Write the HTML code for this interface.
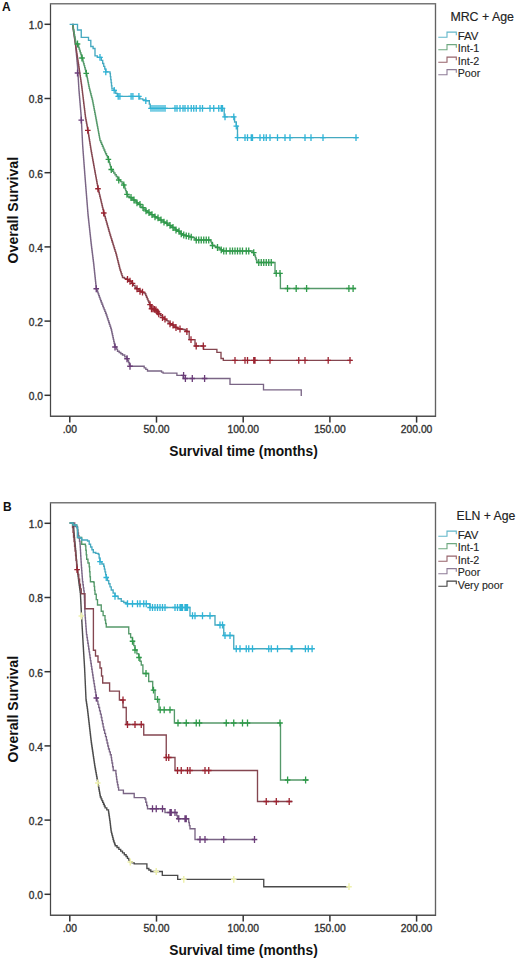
<!DOCTYPE html>
<html><head><meta charset="utf-8"><title>Kaplan-Meier survival curves</title>
<style>
html,body{margin:0;padding:0;background:#fff;}
body{width:520px;height:960px;overflow:hidden;}
svg{display:block;font-family:"Liberation Sans", sans-serif;}
</style></head>
<body>
<svg width="520" height="960" viewBox="0 0 520 960">
<rect width="520" height="960" fill="#fff"/>
<path d="M50.5,3.0V417" stroke="#474747" stroke-width="1.25"/>
<path d="M435.5,3.0V417" stroke="#626262" stroke-width="1.35"/>
<path d="M50,3.8H436" stroke="#777" stroke-width="1.6"/>
<path d="M50,416.3H436" stroke="#505050" stroke-width="1.5"/>
<path d="M44.5,24.30H51" stroke="#333" stroke-width="1.5"/>
<text x="42.9" y="29.10" font-size="10.2" text-anchor="end" fill="#333" stroke="#333" stroke-width="0.35">1.0</text>
<path d="M44.5,98.50H51" stroke="#333" stroke-width="1.5"/>
<text x="42.9" y="103.30" font-size="10.2" text-anchor="end" fill="#333" stroke="#333" stroke-width="0.35">0.8</text>
<path d="M44.5,172.70H51" stroke="#333" stroke-width="1.5"/>
<text x="42.9" y="177.50" font-size="10.2" text-anchor="end" fill="#333" stroke="#333" stroke-width="0.35">0.6</text>
<path d="M44.5,246.90H51" stroke="#333" stroke-width="1.5"/>
<text x="42.9" y="251.70" font-size="10.2" text-anchor="end" fill="#333" stroke="#333" stroke-width="0.35">0.4</text>
<path d="M44.5,321.10H51" stroke="#333" stroke-width="1.5"/>
<text x="42.9" y="325.90" font-size="10.2" text-anchor="end" fill="#333" stroke="#333" stroke-width="0.35">0.2</text>
<path d="M44.5,395.30H51" stroke="#333" stroke-width="1.5"/>
<text x="42.9" y="400.10" font-size="10.2" text-anchor="end" fill="#333" stroke="#333" stroke-width="0.35">0.0</text>
<path d="M69.80,416.20V422.60" stroke="#333" stroke-width="1.5"/>
<text x="69.80" y="432.60" font-size="10.3" text-anchor="middle" fill="#333" stroke="#333" stroke-width="0.35">.00</text>
<path d="M156.50,416.20V422.60" stroke="#333" stroke-width="1.5"/>
<text x="156.50" y="432.60" font-size="10.3" text-anchor="middle" fill="#333" stroke="#333" stroke-width="0.35">50.00</text>
<path d="M243.20,416.20V422.60" stroke="#333" stroke-width="1.5"/>
<text x="243.20" y="432.60" font-size="10.3" text-anchor="middle" fill="#333" stroke="#333" stroke-width="0.35">100.00</text>
<path d="M329.90,416.20V422.60" stroke="#333" stroke-width="1.5"/>
<text x="329.90" y="432.60" font-size="10.3" text-anchor="middle" fill="#333" stroke="#333" stroke-width="0.35">150.00</text>
<path d="M416.60,416.20V422.60" stroke="#333" stroke-width="1.5"/>
<text x="416.60" y="432.60" font-size="10.3" text-anchor="middle" fill="#333" stroke="#333" stroke-width="0.35">200.00</text>
<text x="169.2" y="456.30" font-size="14" font-weight="bold" fill="#111" textLength="148.6" lengthAdjust="spacingAndGlyphs">Survival time (months)</text>
<text transform="translate(17.9,210.15) rotate(-90)" x="0" y="0" font-size="14" font-weight="bold" fill="#111" text-anchor="middle" textLength="106.5" lengthAdjust="spacingAndGlyphs">Overall Survival</text>
<text x="2.1" y="10.9" font-size="12" font-weight="bold" fill="#111">A</text>
<text x="450.4" y="21.10" font-size="12.2" fill="#222" stroke="#222" stroke-width="0.15" textLength="63.6" lengthAdjust="spacingAndGlyphs">MRC + Age</text>
<path d="M438.3,37.20H447V32.10H456.3V35.30" fill="none" stroke="#45a9c0" stroke-width="1.1" opacity="0.85"/>
<text x="457.7" y="39.50" font-size="10.6" fill="#262626" stroke="#262626" stroke-width="0.12" textLength="20.8" lengthAdjust="spacingAndGlyphs">FAV</text>
<path d="M438.3,49.70H447V44.60H456.3V47.80" fill="none" stroke="#55996a" stroke-width="1.1" opacity="0.85"/>
<text x="457.7" y="52.00" font-size="10.6" fill="#262626" stroke="#262626" stroke-width="0.12" textLength="21.5" lengthAdjust="spacingAndGlyphs">Int-1</text>
<path d="M438.3,62.20H447V57.10H456.3V60.30" fill="none" stroke="#844650" stroke-width="1.1" opacity="0.85"/>
<text x="457.7" y="64.50" font-size="10.6" fill="#262626" stroke="#262626" stroke-width="0.12" textLength="21.5" lengthAdjust="spacingAndGlyphs">Int-2</text>
<path d="M438.3,74.70H447V69.60H456.3V72.80" fill="none" stroke="#7a6585" stroke-width="1.1" opacity="0.85"/>
<text x="457.7" y="77.00" font-size="10.6" fill="#262626" stroke="#262626" stroke-width="0.12" textLength="22.5" lengthAdjust="spacingAndGlyphs">Poor</text>
<path d="M50.5,502.0V916" stroke="#474747" stroke-width="1.25"/>
<path d="M435.5,502.0V916" stroke="#626262" stroke-width="1.35"/>
<path d="M50,502.8H436" stroke="#777" stroke-width="1.6"/>
<path d="M50,915.3H436" stroke="#505050" stroke-width="1.5"/>
<path d="M44.5,523.30H51" stroke="#333" stroke-width="1.5"/>
<text x="42.9" y="528.10" font-size="10.2" text-anchor="end" fill="#333" stroke="#333" stroke-width="0.35">1.0</text>
<path d="M44.5,597.50H51" stroke="#333" stroke-width="1.5"/>
<text x="42.9" y="602.30" font-size="10.2" text-anchor="end" fill="#333" stroke="#333" stroke-width="0.35">0.8</text>
<path d="M44.5,671.70H51" stroke="#333" stroke-width="1.5"/>
<text x="42.9" y="676.50" font-size="10.2" text-anchor="end" fill="#333" stroke="#333" stroke-width="0.35">0.6</text>
<path d="M44.5,745.90H51" stroke="#333" stroke-width="1.5"/>
<text x="42.9" y="750.70" font-size="10.2" text-anchor="end" fill="#333" stroke="#333" stroke-width="0.35">0.4</text>
<path d="M44.5,820.10H51" stroke="#333" stroke-width="1.5"/>
<text x="42.9" y="824.90" font-size="10.2" text-anchor="end" fill="#333" stroke="#333" stroke-width="0.35">0.2</text>
<path d="M44.5,894.30H51" stroke="#333" stroke-width="1.5"/>
<text x="42.9" y="899.10" font-size="10.2" text-anchor="end" fill="#333" stroke="#333" stroke-width="0.35">0.0</text>
<path d="M69.80,915.20V921.60" stroke="#333" stroke-width="1.5"/>
<text x="69.80" y="931.60" font-size="10.3" text-anchor="middle" fill="#333" stroke="#333" stroke-width="0.35">.00</text>
<path d="M156.50,915.20V921.60" stroke="#333" stroke-width="1.5"/>
<text x="156.50" y="931.60" font-size="10.3" text-anchor="middle" fill="#333" stroke="#333" stroke-width="0.35">50.00</text>
<path d="M243.20,915.20V921.60" stroke="#333" stroke-width="1.5"/>
<text x="243.20" y="931.60" font-size="10.3" text-anchor="middle" fill="#333" stroke="#333" stroke-width="0.35">100.00</text>
<path d="M329.90,915.20V921.60" stroke="#333" stroke-width="1.5"/>
<text x="329.90" y="931.60" font-size="10.3" text-anchor="middle" fill="#333" stroke="#333" stroke-width="0.35">150.00</text>
<path d="M416.60,915.20V921.60" stroke="#333" stroke-width="1.5"/>
<text x="416.60" y="931.60" font-size="10.3" text-anchor="middle" fill="#333" stroke="#333" stroke-width="0.35">200.00</text>
<text x="169.2" y="955.30" font-size="14" font-weight="bold" fill="#111" textLength="148.6" lengthAdjust="spacingAndGlyphs">Survival time (months)</text>
<text transform="translate(17.9,709.15) rotate(-90)" x="0" y="0" font-size="14" font-weight="bold" fill="#111" text-anchor="middle" textLength="106.5" lengthAdjust="spacingAndGlyphs">Overall Survival</text>
<text x="3.1" y="511.3" font-size="12" font-weight="bold" fill="#111">B</text>
<text x="456.5" y="520.40" font-size="12.2" fill="#222" stroke="#222" stroke-width="0.15" textLength="58.9" lengthAdjust="spacingAndGlyphs">ELN + Age</text>
<path d="M438.3,536.20H447V531.10H456.3V534.30" fill="none" stroke="#45a9c0" stroke-width="1.1" opacity="0.85"/>
<text x="457.7" y="538.50" font-size="10.6" fill="#262626" stroke="#262626" stroke-width="0.12" textLength="20.8" lengthAdjust="spacingAndGlyphs">FAV</text>
<path d="M438.3,548.70H447V543.60H456.3V546.80" fill="none" stroke="#55996a" stroke-width="1.1" opacity="0.85"/>
<text x="457.7" y="551.00" font-size="10.6" fill="#262626" stroke="#262626" stroke-width="0.12" textLength="21.5" lengthAdjust="spacingAndGlyphs">Int-1</text>
<path d="M438.3,561.20H447V556.10H456.3V559.30" fill="none" stroke="#844650" stroke-width="1.1" opacity="0.85"/>
<text x="457.7" y="563.50" font-size="10.6" fill="#262626" stroke="#262626" stroke-width="0.12" textLength="21.5" lengthAdjust="spacingAndGlyphs">Int-2</text>
<path d="M438.3,573.70H447V568.60H456.3V571.80" fill="none" stroke="#7a6585" stroke-width="1.1" opacity="0.85"/>
<text x="457.7" y="576.00" font-size="10.6" fill="#262626" stroke="#262626" stroke-width="0.12" textLength="22.5" lengthAdjust="spacingAndGlyphs">Poor</text>
<path d="M438.3,586.20H447V581.10H456.3V584.30" fill="none" stroke="#1e1e1e" stroke-width="1.1" opacity="0.85"/>
<text x="457.7" y="588.50" font-size="10.6" fill="#262626" stroke="#262626" stroke-width="0.12" textLength="45.5" lengthAdjust="spacingAndGlyphs">Very poor</text>
<path d="M72.50,24.30 L72.75,24.30 L72.75,26.03 L73.00,26.03 L73.00,27.75 L73.25,27.75 L73.25,29.48 L73.50,29.48 L73.50,31.20 L73.75,31.20 L73.75,32.92 L74.00,32.92 L74.00,34.65 L74.25,34.65 L74.25,36.38 L74.50,36.38 L74.50,38.10 L74.75,38.10 L74.75,39.83 L75.00,39.83 L75.00,41.55 L75.25,41.55 L75.25,43.27 L75.50,43.27 L75.50,45.00 L75.67,45.00 L75.67,46.81 L75.83,46.81 L75.83,48.62 L76.00,48.62 L76.00,50.42 L76.17,50.42 L76.17,52.23 L76.33,52.23 L76.33,54.04 L76.50,54.04 L76.50,55.85 L76.67,55.85 L76.67,57.66 L76.83,57.66 L76.83,59.47 L77.00,59.47 L77.00,61.28 L77.17,61.28 L77.17,63.08 L77.33,63.08 L77.33,64.89 L77.50,64.89 L77.50,66.70 L77.61,66.70 L77.61,68.49 L77.72,68.49 L77.72,70.28 L77.82,70.28 L77.82,72.08 L77.93,72.08 L77.93,73.87 L78.04,73.87 L78.04,75.66 L78.15,75.66 L78.15,77.45 L78.25,77.45 L78.25,79.25 L78.36,79.25 L78.36,81.04 L78.47,81.04 L78.47,82.83 L78.58,82.83 L78.58,84.62 L78.68,84.62 L78.68,86.42 L78.79,86.42 L78.79,88.21 L78.90,88.21 L78.90,90.00 L79.05,90.00 L79.05,91.75 L79.19,91.75 L79.19,93.50 L79.34,93.50 L79.34,95.25 L79.49,95.25 L79.49,97.00 L79.63,97.00 L79.63,98.75 L79.78,98.75 L79.78,100.50 L79.93,100.50 L79.93,102.25 L80.08,102.25 L80.08,104.00 L80.22,104.00 L80.22,105.75 L80.37,105.75 L80.37,107.50 L80.52,107.50 L80.52,109.25 L80.66,109.25 L80.66,111.00 L80.81,111.00 L80.81,112.75 L80.96,112.75 L80.96,114.50 L81.10,114.50 L81.10,116.25 L81.25,116.25 L81.25,118.00 L81.34,118.00 L81.34,119.76 L81.42,119.76 L81.42,121.53 L81.51,121.53 L81.51,123.29 L81.60,123.29 L81.60,125.05 L81.69,125.05 L81.69,126.81 L81.78,126.81 L81.78,128.57 L81.86,128.57 L81.86,130.34 L81.95,130.34 L81.95,132.10 L82.04,132.10 L82.04,133.86 L82.12,133.86 L82.12,135.62 L82.21,135.62 L82.21,137.39 L82.30,137.39 L82.30,139.15 L82.39,139.15 L82.39,140.91 L82.48,140.91 L82.48,142.67 L82.56,142.67 L82.56,144.44 L82.65,144.44 L82.65,146.20 L82.79,146.20 L82.79,148.04 L82.93,148.04 L82.93,149.88 L83.06,149.88 L83.06,151.72 L83.20,151.72 L83.20,153.56 L83.34,153.56 L83.34,155.41 L83.48,155.41 L83.48,157.25 L83.62,157.25 L83.62,159.09 L83.76,159.09 L83.76,160.93 L83.89,160.93 L83.89,162.77 L84.03,162.77 L84.03,164.61 L84.17,164.61 L84.17,166.45 L84.31,166.45 L84.31,168.29 L84.45,168.29 L84.45,170.14 L84.59,170.14 L84.59,171.98 L84.72,171.98 L84.72,173.82 L84.86,173.82 L84.86,175.66 L85.00,175.66 L85.00,177.50 L85.14,177.50 L85.14,179.29 L85.29,179.29 L85.29,181.07 L85.43,181.07 L85.43,182.86 L85.57,182.86 L85.57,184.64 L85.71,184.64 L85.71,186.43 L85.86,186.43 L85.86,188.21 L86.00,188.21 L86.00,190.00 L86.14,190.00 L86.14,191.79 L86.29,191.79 L86.29,193.57 L86.43,193.57 L86.43,195.36 L86.57,195.36 L86.57,197.14 L86.71,197.14 L86.71,198.93 L86.86,198.93 L86.86,200.71 L87.00,200.71 L87.00,202.50 L87.14,202.50 L87.14,204.29 L87.29,204.29 L87.29,206.07 L87.43,206.07 L87.43,207.86 L87.57,207.86 L87.57,209.64 L87.71,209.64 L87.71,211.43 L87.86,211.43 L87.86,213.21 L88.00,213.21 L88.00,215.00 L88.19,215.00 L88.19,216.76 L88.38,216.76 L88.38,218.53 L88.57,218.53 L88.57,220.29 L88.76,220.29 L88.76,222.06 L88.96,222.06 L88.96,223.82 L89.15,223.82 L89.15,225.59 L89.34,225.59 L89.34,227.35 L89.53,227.35 L89.53,229.12 L89.72,229.12 L89.72,230.88 L89.91,230.88 L89.91,232.65 L90.10,232.65 L90.10,234.41 L90.29,234.41 L90.29,236.18 L90.49,236.18 L90.49,237.94 L90.68,237.94 L90.68,239.71 L90.87,239.71 L90.87,241.47 L91.06,241.47 L91.06,243.24 L91.25,243.24 L91.25,245.00 L91.48,245.00 L91.48,246.82 L91.70,246.82 L91.70,248.64 L91.93,248.64 L91.93,250.45 L92.16,250.45 L92.16,252.27 L92.39,252.27 L92.39,254.09 L92.61,254.09 L92.61,255.91 L92.84,255.91 L92.84,257.73 L93.07,257.73 L93.07,259.55 L93.30,259.55 L93.30,261.36 L93.52,261.36 L93.52,263.18 L93.75,263.18 L93.75,265.00 L93.94,265.00 L93.94,266.83 L94.13,266.83 L94.13,268.65 L94.33,268.65 L94.33,270.48 L94.52,270.48 L94.52,272.31 L94.71,272.31 L94.71,274.13 L94.90,274.13 L94.90,275.96 L95.10,275.96 L95.10,277.79 L95.29,277.79 L95.29,279.62 L95.48,279.62 L95.48,281.44 L95.67,281.44 L95.67,283.27 L95.87,283.27 L95.87,285.10 L96.06,285.10 L96.06,286.92 L96.25,286.92 L96.25,288.75 L96.88,288.75 L96.88,290.47 L97.50,290.47 L97.50,292.19 L98.12,292.19 L98.12,293.91 L98.75,293.91 L98.75,295.62 L99.38,295.62 L99.38,297.34 L100.00,297.34 L100.00,299.06 L100.62,299.06 L100.62,300.78 L101.25,300.78 L101.25,302.50 L101.96,302.50 L101.96,304.29 L102.68,304.29 L102.68,306.07 L103.39,306.07 L103.39,307.86 L104.11,307.86 L104.11,309.64 L104.82,309.64 L104.82,311.43 L105.54,311.43 L105.54,313.21 L106.25,313.21 L106.25,315.00 L106.88,315.00 L106.88,316.88 L107.50,316.88 L107.50,318.75 L108.12,318.75 L108.12,320.62 L108.75,320.62 L108.75,322.50 L109.38,322.50 L109.38,324.38 L110.00,324.38 L110.00,326.25 L110.62,326.25 L110.62,328.12 L111.25,328.12 L111.25,330.00 L111.67,330.00 L111.67,331.89 L112.08,331.89 L112.08,333.78 L112.50,333.78 L112.50,335.67 L112.92,335.67 L112.92,337.56 L113.33,337.56 L113.33,339.44 L113.75,339.44 L113.75,341.33 L114.17,341.33 L114.17,343.22 L114.58,343.22 L114.58,345.11 L115.00,345.11 L115.00,347.00 L116.25,347.00 L116.25,349.12 L117.50,349.12 L117.50,351.25 L119.17,351.25 L119.17,352.50 L120.83,352.50 L120.83,353.75 L122.50,353.75 L122.50,355.00 L124.75,355.00 L124.75,356.88 L127.00,356.88 L127.00,358.75 L127.75,358.75 L127.75,360.62 L128.50,360.62 L128.50,362.50 L129.25,362.50 L129.25,364.38 L130.00,364.38 L130.00,366.25 L142.50,366.25 L144.17,366.25 L144.17,367.83 L145.83,367.83 L145.83,369.42 L147.50,369.42 L147.50,371.00 L160.00,371.00 L161.55,371.00 L161.55,372.05 L163.10,372.05 L163.10,373.10 L176.90,373.10 L176.90,375.40 L183.10,375.40 L183.10,378.50 L230.00,378.50 L230.00,384.30 L263.50,384.30 L263.50,389.80 L301.25,389.80 L301.25,396.00" fill="none" stroke="#7a6585" stroke-width="1.35" stroke-linejoin="miter"/>
<path d="M77.50,69.60V76.40M74.70,73.00H80.30M81.25,116.80V123.60M78.45,120.20H84.05M96.25,285.35V292.15M93.45,288.75H99.05M115.00,343.60V350.40M112.20,347.00H117.80M127.00,355.35V362.15M124.20,358.75H129.80M130.00,362.85V369.65M127.20,366.25H132.80M183.60,372.00V378.80M180.80,375.40H186.40M185.40,375.10V381.90M182.60,378.50H188.20M192.30,375.10V381.90M189.50,378.50H195.10M204.60,375.10V381.90M201.80,378.50H207.40" fill="none" stroke="#6a3c78" stroke-width="1.3"/>

<path d="M72.50,24.30 L72.76,24.30 L72.76,26.11 L73.03,26.11 L73.03,27.93 L73.29,27.93 L73.29,29.74 L73.55,29.74 L73.55,31.55 L73.81,31.55 L73.81,33.36 L74.08,33.36 L74.08,35.17 L74.34,35.17 L74.34,36.99 L74.60,36.99 L74.60,38.80 L74.86,38.80 L74.86,40.61 L75.12,40.61 L75.12,42.42 L75.39,42.42 L75.39,44.24 L75.65,44.24 L75.65,46.05 L75.91,46.05 L75.91,47.86 L76.17,47.86 L76.17,49.67 L76.44,49.67 L76.44,51.49 L76.70,51.49 L76.70,53.30 L76.99,53.30 L76.99,55.21 L77.29,55.21 L77.29,57.13 L77.58,57.13 L77.58,59.04 L77.87,59.04 L77.87,60.96 L78.16,60.96 L78.16,62.87 L78.46,62.87 L78.46,64.79 L78.75,64.79 L78.75,66.70 L79.02,66.70 L79.02,68.52 L79.29,68.52 L79.29,70.34 L79.55,70.34 L79.55,72.15 L79.82,72.15 L79.82,73.97 L80.09,73.97 L80.09,75.79 L80.36,75.79 L80.36,77.61 L80.63,77.61 L80.63,79.43 L80.90,79.43 L80.90,81.25 L81.16,81.25 L81.16,83.06 L81.43,83.06 L81.43,84.88 L81.70,84.88 L81.70,86.70 L81.92,86.70 L81.92,88.54 L82.15,88.54 L82.15,90.38 L82.37,90.38 L82.37,92.22 L82.59,92.22 L82.59,94.06 L82.82,94.06 L82.82,95.91 L83.04,95.91 L83.04,97.75 L83.26,97.75 L83.26,99.59 L83.49,99.59 L83.49,101.43 L83.71,101.43 L83.71,103.27 L83.94,103.27 L83.94,105.11 L84.16,105.11 L84.16,106.95 L84.38,106.95 L84.38,108.79 L84.61,108.79 L84.61,110.64 L84.83,110.64 L84.83,112.48 L85.05,112.48 L85.05,114.32 L85.28,114.32 L85.28,116.16 L85.50,116.16 L85.50,118.00 L85.83,118.00 L85.83,119.76 L86.16,119.76 L86.16,121.51 L86.49,121.51 L86.49,123.27 L86.81,123.27 L86.81,125.03 L87.14,125.03 L87.14,126.79 L87.47,126.79 L87.47,128.54 L87.80,128.54 L87.80,130.30 L88.10,130.30 L88.10,132.18 L88.40,132.18 L88.40,134.06 L88.70,134.06 L88.70,135.95 L89.00,135.95 L89.00,137.83 L89.30,137.83 L89.30,139.71 L89.60,139.71 L89.60,141.59 L89.90,141.59 L89.90,143.47 L90.20,143.47 L90.20,145.35 L90.50,145.35 L90.50,147.24 L90.80,147.24 L90.80,149.12 L91.10,149.12 L91.10,151.00 L91.42,151.00 L91.42,152.79 L91.75,152.79 L91.75,154.58 L92.07,154.58 L92.07,156.38 L92.40,156.38 L92.40,158.17 L92.72,158.17 L92.72,159.96 L93.05,159.96 L93.05,161.75 L93.38,161.75 L93.38,163.54 L93.70,163.54 L93.70,165.33 L94.03,165.33 L94.03,167.12 L94.35,167.12 L94.35,168.92 L94.67,168.92 L94.67,170.71 L95.00,170.71 L95.00,172.50 L95.33,172.50 L95.33,174.31 L95.67,174.31 L95.67,176.11 L96.00,176.11 L96.00,177.92 L96.33,177.92 L96.33,179.72 L96.67,179.72 L96.67,181.53 L97.00,181.53 L97.00,183.33 L97.33,183.33 L97.33,185.14 L97.67,185.14 L97.67,186.94 L98.00,186.94 L98.00,188.75 L98.44,188.75 L98.44,190.62 L98.88,190.62 L98.88,192.48 L99.33,192.48 L99.33,194.35 L99.77,194.35 L99.77,196.21 L100.21,196.21 L100.21,198.08 L100.65,198.08 L100.65,199.94 L101.10,199.94 L101.10,201.81 L101.54,201.81 L101.54,203.67 L101.98,203.67 L101.98,205.54 L102.42,205.54 L102.42,207.40 L102.87,207.40 L102.87,209.27 L103.31,209.27 L103.31,211.13 L103.75,211.13 L103.75,213.00 L104.27,213.00 L104.27,214.83 L104.79,214.83 L104.79,216.67 L105.31,216.67 L105.31,218.50 L105.83,218.50 L105.83,220.33 L106.35,220.33 L106.35,222.17 L106.88,222.17 L106.88,224.00 L107.40,224.00 L107.40,225.83 L107.92,225.83 L107.92,227.67 L108.44,227.67 L108.44,229.50 L108.96,229.50 L108.96,231.33 L109.48,231.33 L109.48,233.17 L110.00,233.17 L110.00,235.00 L110.57,235.00 L110.57,236.82 L111.14,236.82 L111.14,238.64 L111.70,238.64 L111.70,240.45 L112.27,240.45 L112.27,242.27 L112.84,242.27 L112.84,244.09 L113.41,244.09 L113.41,245.91 L113.98,245.91 L113.98,247.73 L114.55,247.73 L114.55,249.55 L115.11,249.55 L115.11,251.36 L115.68,251.36 L115.68,253.18 L116.25,253.18 L116.25,255.00 L116.72,255.00 L116.72,256.88 L117.19,256.88 L117.19,258.75 L117.66,258.75 L117.66,260.62 L118.12,260.62 L118.12,262.50 L118.59,262.50 L118.59,264.38 L119.06,264.38 L119.06,266.25 L119.53,266.25 L119.53,268.12 L120.00,268.12 L120.00,270.00 L120.62,270.00 L120.62,271.88 L121.25,271.88 L121.25,273.75 L121.88,273.75 L121.88,275.62 L122.50,275.62 L122.50,277.50 L124.38,277.50 L124.38,278.44 L126.25,278.44 L126.25,279.38 L128.12,279.38 L128.12,280.31 L130.00,280.31 L130.00,281.25 L131.67,281.25 L131.67,283.33 L133.33,283.33 L133.33,285.42 L135.00,285.42 L135.00,287.50 L136.67,287.50 L136.67,288.75 L138.33,288.75 L138.33,290.00 L140.00,290.00 L140.00,291.25 L141.67,291.25 L141.67,292.08 L143.33,292.08 L143.33,292.92 L145.00,292.92 L145.00,293.75 L145.75,293.75 L145.75,295.50 L146.50,295.50 L146.50,297.25 L147.25,297.25 L147.25,299.00 L148.00,299.00 L148.00,300.75 L148.75,300.75 L148.75,302.50 L149.58,302.50 L149.58,304.58 L150.42,304.58 L150.42,306.67 L151.25,306.67 L151.25,308.75 L153.12,308.75 L153.12,309.38 L155.00,309.38 L155.00,310.00 L156.88,310.00 L156.88,311.88 L158.75,311.88 L158.75,313.75 L160.62,313.75 L160.62,315.62 L162.50,315.62 L162.50,317.50 L164.38,317.50 L164.38,319.06 L166.25,319.06 L166.25,320.62 L168.12,320.62 L168.12,322.19 L170.00,322.19 L170.00,323.75 L171.88,323.75 L171.88,325.00 L173.75,325.00 L173.75,326.25 L175.62,326.25 L175.62,327.50 L177.50,327.50 L177.50,328.75 L179.50,328.75 L179.50,329.00 L181.50,329.00 L181.50,329.25 L183.50,329.25 L183.50,329.50 L185.20,329.50 L185.20,330.50 L186.90,330.50 L186.90,331.50 L189.20,331.50 L189.20,333.00 L189.20,339.60 L195.00,339.60 L195.00,346.00 L203.60,346.00 L203.60,349.40 L216.90,349.40 L216.90,352.30 L221.00,352.30 L221.00,358.50 L223.30,358.50 L223.30,360.30 L352.30,360.30" fill="none" stroke="#844650" stroke-width="1.35" stroke-linejoin="miter"/>
<path d="M87.80,126.90V133.70M85.00,130.30H90.60M98.00,185.35V192.15M95.20,188.75H100.80M103.75,209.60V216.40M100.95,213.00H106.55M127.50,275.98V282.77M124.70,279.38H130.30M130.00,277.85V284.65M127.20,281.25H132.80M132.50,279.93V286.73M129.70,283.33H135.30M137.00,285.35V292.15M134.20,288.75H139.80M140.00,287.85V294.65M137.20,291.25H142.80M142.50,288.68V295.48M139.70,292.08H145.30M150.00,301.18V307.98M147.20,304.58H152.80M151.50,305.35V312.15M148.70,308.75H154.30M153.00,305.35V312.15M150.20,308.75H155.80M154.50,305.98V312.77M151.70,309.38H157.30M156.00,306.60V313.40M153.20,310.00H158.80M157.50,308.48V315.27M154.70,311.88H160.30M158.75,310.35V317.15M155.95,313.75H161.55M162.50,314.10V320.90M159.70,317.50H165.30M165.00,315.66V322.46M162.20,319.06H167.80M170.00,320.35V327.15M167.20,323.75H172.80M173.00,321.60V328.40M170.20,325.00H175.80M176.00,324.10V330.90M173.20,327.50H178.80M180.00,325.60V332.40M177.20,329.00H182.80M186.90,328.10V334.90M184.10,331.50H189.70M191.00,336.20V343.00M188.20,339.60H193.80M196.20,342.60V349.40M193.40,346.00H199.00M203.30,342.60V349.40M200.50,346.00H206.10M235.00,356.90V363.70M232.20,360.30H237.80M245.00,356.90V363.70M242.20,360.30H247.80M247.50,356.90V363.70M244.70,360.30H250.30M253.75,356.90V363.70M250.95,360.30H256.55M255.00,356.90V363.70M252.20,360.30H257.80M270.00,356.90V363.70M267.20,360.30H272.80M298.75,356.90V363.70M295.95,360.30H301.55M305.00,356.90V363.70M302.20,360.30H307.80M328.20,356.90V363.70M325.40,360.30H331.00M350.00,356.90V363.70M347.20,360.30H352.80" fill="none" stroke="#9b2330" stroke-width="1.3"/>

<path d="M72.50,24.30 L72.80,24.30 L72.80,26.03 L73.10,26.03 L73.10,27.75 L73.40,27.75 L73.40,29.48 L73.70,29.48 L73.70,31.21 L74.00,31.21 L74.00,32.94 L74.30,32.94 L74.30,34.66 L74.60,34.66 L74.60,36.39 L74.90,36.39 L74.90,38.12 L75.20,38.12 L75.20,39.85 L75.50,39.85 L75.50,41.57 L75.80,41.57 L75.80,43.30 L77.50,43.30 L77.50,44.00 L78.06,44.00 L78.06,45.75 L78.62,45.75 L78.62,47.50 L79.19,47.50 L79.19,49.25 L79.75,49.25 L79.75,51.00 L80.31,51.00 L80.31,52.75 L80.88,52.75 L80.88,54.50 L81.44,54.50 L81.44,56.25 L82.00,56.25 L82.00,58.00 L82.53,58.00 L82.53,59.91 L83.06,59.91 L83.06,61.83 L83.59,61.83 L83.59,63.74 L84.12,63.74 L84.12,65.65 L84.66,65.65 L84.66,67.56 L85.19,67.56 L85.19,69.47 L85.72,69.47 L85.72,71.39 L86.25,71.39 L86.25,73.30 L86.62,73.30 L86.62,75.17 L86.99,75.17 L86.99,77.05 L87.36,77.05 L87.36,78.92 L87.72,78.92 L87.72,80.80 L88.09,80.80 L88.09,82.67 L88.46,82.67 L88.46,84.55 L88.83,84.55 L88.83,86.42 L89.20,86.42 L89.20,88.30 L89.67,88.30 L89.67,90.11 L90.14,90.11 L90.14,91.93 L90.61,91.93 L90.61,93.74 L91.09,93.74 L91.09,95.56 L91.56,95.56 L91.56,97.37 L92.03,97.37 L92.03,99.19 L92.50,99.19 L92.50,101.00 L92.87,101.00 L92.87,102.89 L93.23,102.89 L93.23,104.78 L93.60,104.78 L93.60,106.67 L93.97,106.67 L93.97,108.56 L94.33,108.56 L94.33,110.44 L94.70,110.44 L94.70,112.33 L95.07,112.33 L95.07,114.22 L95.43,114.22 L95.43,116.11 L95.80,116.11 L95.80,118.00 L96.12,118.00 L96.12,119.74 L96.45,119.74 L96.45,121.48 L96.77,121.48 L96.77,123.22 L97.09,123.22 L97.09,124.95 L97.42,124.95 L97.42,126.69 L97.74,126.69 L97.74,128.43 L98.06,128.43 L98.06,130.17 L98.38,130.17 L98.38,131.91 L98.71,131.91 L98.71,133.65 L99.03,133.65 L99.03,135.38 L99.35,135.38 L99.35,137.12 L99.68,137.12 L99.68,138.86 L100.00,138.86 L100.00,140.60 L100.80,140.60 L100.80,142.47 L101.60,142.47 L101.60,144.34 L102.40,144.34 L102.40,146.21 L103.20,146.21 L103.20,148.09 L104.00,148.09 L104.00,149.96 L104.80,149.96 L104.80,151.83 L105.60,151.83 L105.60,153.70 L106.53,153.70 L106.53,155.60 L107.47,155.60 L107.47,157.50 L108.40,157.50 L108.40,159.40 L108.88,159.40 L108.88,161.08 L109.35,161.08 L109.35,162.77 L109.83,162.77 L109.83,164.45 L110.30,164.45 L110.30,166.13 L110.78,166.13 L110.78,167.82 L111.25,167.82 L111.25,169.50 L112.50,169.50 L112.50,171.25 L113.75,171.25 L113.75,173.00 L115.00,173.00 L115.00,174.75 L116.25,174.75 L116.25,176.50 L117.50,176.50 L117.50,178.25 L118.75,178.25 L118.75,180.00 L120.42,180.00 L120.42,181.67 L122.08,181.67 L122.08,183.33 L123.75,183.33 L123.75,185.00 L124.38,185.00 L124.38,186.88 L125.00,186.88 L125.00,188.75 L125.62,188.75 L125.62,190.62 L126.25,190.62 L126.25,192.50 L126.88,192.50 L126.88,194.38 L127.50,194.38 L127.50,196.25 L129.38,196.25 L129.38,197.50 L131.25,197.50 L131.25,198.75 L133.12,198.75 L133.12,200.00 L135.00,200.00 L135.00,201.25 L136.79,201.25 L136.79,202.86 L138.57,202.86 L138.57,204.46 L140.36,204.46 L140.36,206.07 L142.14,206.07 L142.14,207.68 L143.93,207.68 L143.93,209.29 L145.71,209.29 L145.71,210.89 L147.50,210.89 L147.50,212.50 L149.29,212.50 L149.29,213.57 L151.07,213.57 L151.07,214.64 L152.86,214.64 L152.86,215.71 L154.64,215.71 L154.64,216.79 L156.43,216.79 L156.43,217.86 L158.21,217.86 L158.21,218.93 L160.00,218.93 L160.00,220.00 L161.79,220.00 L161.79,221.07 L163.57,221.07 L163.57,222.14 L165.36,222.14 L165.36,223.21 L167.14,223.21 L167.14,224.29 L168.93,224.29 L168.93,225.36 L170.71,225.36 L170.71,226.43 L172.50,226.43 L172.50,227.50 L174.17,227.50 L174.17,228.75 L175.83,228.75 L175.83,230.00 L177.50,230.00 L177.50,231.25 L179.17,231.25 L179.17,232.50 L180.83,232.50 L180.83,233.75 L182.50,233.75 L182.50,235.00 L184.17,235.00 L184.17,235.42 L185.83,235.42 L185.83,235.83 L187.50,235.83 L187.50,236.25 L189.17,236.25 L189.17,236.67 L190.83,236.67 L190.83,237.08 L192.50,237.08 L192.50,237.50 L194.38,237.50 L194.38,238.75 L196.25,238.75 L196.25,240.00 L210.00,240.00 L210.83,240.00 L210.83,241.83 L211.67,241.83 L211.67,243.67 L212.50,243.67 L212.50,245.50 L214.17,245.50 L214.17,246.17 L215.83,246.17 L215.83,246.83 L217.50,246.83 L217.50,247.50 L219.17,247.50 L219.17,248.67 L220.83,248.67 L220.83,249.83 L222.50,249.83 L222.50,251.00 L252.00,251.00 L253.00,251.00 L253.00,252.67 L254.00,252.67 L254.00,254.33 L255.00,254.33 L255.00,256.00 L255.50,256.00 L255.50,257.62 L256.00,257.62 L256.00,259.25 L256.50,259.25 L256.50,260.88 L257.00,260.88 L257.00,262.50 L275.00,262.50 L275.00,273.40 L280.40,273.40 L280.40,288.50 L356.20,288.50" fill="none" stroke="#55996a" stroke-width="1.35" stroke-linejoin="miter"/>
<path d="M77.50,40.60V47.40M74.70,44.00H80.30M82.00,54.60V61.40M79.20,58.00H84.80M86.25,69.90V76.70M83.45,73.30H89.05M108.40,156.00V162.80M105.60,159.40H111.20M111.25,166.10V172.90M108.45,169.50H114.05M118.75,176.60V183.40M115.95,180.00H121.55M123.75,181.60V188.40M120.95,185.00H126.55M127.00,190.97V197.78M124.20,194.38H129.80M131.00,194.10V200.90M128.20,197.50H133.80M134.00,196.60V203.40M131.20,200.00H136.80M137.00,199.46V206.26M134.20,202.86H139.80M140.00,201.06V207.86M137.20,204.46H142.80M143.00,204.28V211.08M140.20,207.68H145.80M146.00,207.49V214.29M143.20,210.89H148.80M149.00,209.10V215.90M146.20,212.50H151.80M152.00,211.24V218.04M149.20,214.64H154.80M155.00,213.39V220.19M152.20,216.79H157.80M158.00,214.46V221.26M155.20,217.86H160.80M161.00,216.60V223.40M158.20,220.00H163.80M164.00,218.74V225.54M161.20,222.14H166.80M167.00,219.81V226.61M164.20,223.21H169.80M170.00,221.96V228.76M167.20,225.36H172.80M173.00,224.10V230.90M170.20,227.50H175.80M176.00,226.60V233.40M173.20,230.00H178.80M179.00,227.85V234.65M176.20,231.25H181.80M181.25,230.35V237.15M178.45,233.75H184.05M183.75,231.60V238.40M180.95,235.00H186.55M186.25,232.43V239.23M183.45,235.83H189.05M188.75,232.85V239.65M185.95,236.25H191.55M191.25,233.68V240.48M188.45,237.08H194.05M196.25,236.60V243.40M193.45,240.00H199.05M198.75,236.60V243.40M195.95,240.00H201.55M201.25,236.60V243.40M198.45,240.00H204.05M203.75,236.60V243.40M200.95,240.00H206.55M206.25,236.60V243.40M203.45,240.00H209.05M208.75,236.60V243.40M205.95,240.00H211.55M212.50,242.10V248.90M209.70,245.50H215.30M217.50,244.10V250.90M214.70,247.50H220.30M221.25,246.43V253.23M218.45,249.83H224.05M223.75,247.60V254.40M220.95,251.00H226.55M226.25,247.60V254.40M223.45,251.00H229.05M230.00,247.60V254.40M227.20,251.00H232.80M232.50,247.60V254.40M229.70,251.00H235.30M235.00,247.60V254.40M232.20,251.00H237.80M237.50,247.60V254.40M234.70,251.00H240.30M240.00,247.60V254.40M237.20,251.00H242.80M242.50,247.60V254.40M239.70,251.00H245.30M246.25,247.60V254.40M243.45,251.00H249.05M248.75,247.60V254.40M245.95,251.00H251.55M253.75,249.27V256.07M250.95,252.67H256.55M258.75,259.10V265.90M255.95,262.50H261.55M261.25,259.10V265.90M258.45,262.50H264.05M263.75,259.10V265.90M260.95,262.50H266.55M266.25,259.10V265.90M263.45,262.50H269.05M268.75,259.10V265.90M265.95,262.50H271.55M271.25,259.10V265.90M268.45,262.50H274.05M276.25,270.00V276.80M273.45,273.40H279.05M280.00,270.00V276.80M277.20,273.40H282.80M287.50,285.10V291.90M284.70,288.50H290.30M296.20,285.10V291.90M293.40,288.50H299.00M306.60,285.10V291.90M303.80,288.50H309.40M348.90,285.10V291.90M346.10,288.50H351.70M353.10,285.10V291.90M350.30,288.50H355.90" fill="none" stroke="#2f9a4a" stroke-width="1.3"/>

<path d="M69.60,24.30 L77.50,24.30 L77.50,30.00 L81.25,30.00 L81.25,37.30 L88.50,37.30 L88.50,40.40 L90.80,40.40 L90.80,46.50 L93.10,46.50 L93.10,48.50 L95.00,48.50 L95.00,55.80 L97.30,55.80 L97.30,57.30 L100.00,57.30 L101.35,57.30 L101.35,60.40 L102.70,60.40 L102.70,63.50 L103.73,63.50 L103.73,66.30 L104.77,66.30 L104.77,69.10 L105.80,69.10 L105.80,71.90 L110.00,71.90 L110.00,73.50 L110.38,73.50 L110.38,76.56 L110.76,76.56 L110.76,79.62 L111.14,79.62 L111.14,82.68 L111.52,82.68 L111.52,85.74 L111.90,85.74 L111.90,88.80 L114.20,88.80 L114.20,90.40 L115.75,90.40 L115.75,93.35 L117.30,93.35 L117.30,96.30 L139.80,96.30 L139.80,98.90 L142.80,98.90 L142.80,99.80 L145.80,99.80 L145.80,100.70 L149.30,100.70 L149.30,104.10 L150.20,104.10 L150.20,108.40 L224.20,108.40 L224.20,116.90 L234.60,116.90 L234.60,122.00 L236.30,122.00 L236.30,126.10 L237.50,126.10 L237.50,128.00 L237.50,137.60 L358.20,137.60" fill="none" stroke="#45a9c0" stroke-width="1.35" stroke-linejoin="miter"/>
<path d="M100.00,53.90V60.70M97.20,57.30H102.80M105.80,68.50V75.30M103.00,71.90H108.60M114.20,87.00V93.80M111.40,90.40H117.00M118.20,92.90V99.70M115.40,96.30H121.00M119.90,92.90V99.70M117.10,96.30H122.70M131.10,92.90V99.70M128.30,96.30H133.90M132.90,92.90V99.70M130.10,96.30H135.70M138.90,92.90V99.70M136.10,96.30H141.70M145.80,97.30V104.10M143.00,100.70H148.60M151.00,105.00V111.80M148.20,108.40H153.80M153.00,105.00V111.80M150.20,108.40H155.80M155.00,105.00V111.80M152.20,108.40H157.80M157.00,105.00V111.80M154.20,108.40H159.80M159.00,105.00V111.80M156.20,108.40H161.80M161.00,105.00V111.80M158.20,108.40H163.80M163.00,105.00V111.80M160.20,108.40H165.80M165.00,105.00V111.80M162.20,108.40H167.80M175.00,105.00V111.80M172.20,108.40H177.80M177.00,105.00V111.80M174.20,108.40H179.80M180.00,105.00V111.80M177.20,108.40H182.80M183.00,105.00V111.80M180.20,108.40H185.80M185.00,105.00V111.80M182.20,108.40H187.80M188.00,105.00V111.80M185.20,108.40H190.80M191.25,105.00V111.80M188.45,108.40H194.05M193.75,105.00V111.80M190.95,108.40H196.55M196.25,105.00V111.80M193.45,108.40H199.05M200.00,105.00V111.80M197.20,108.40H202.80M202.50,105.00V111.80M199.70,108.40H205.30M210.00,105.00V111.80M207.20,108.40H212.80M213.75,105.00V111.80M210.95,108.40H216.55M218.75,105.00V111.80M215.95,108.40H221.55M221.25,105.00V111.80M218.45,108.40H224.05M222.50,105.00V111.80M219.70,108.40H225.30M225.00,113.50V120.30M222.20,116.90H227.80M233.80,113.50V120.30M231.00,116.90H236.60M236.30,122.70V129.50M233.50,126.10H239.10M237.50,134.20V141.00M234.70,137.60H240.30M245.00,134.20V141.00M242.20,137.60H247.80M247.50,134.20V141.00M244.70,137.60H250.30M251.25,134.20V141.00M248.45,137.60H254.05M252.50,134.20V141.00M249.70,137.60H255.30M260.00,134.20V141.00M257.20,137.60H262.80M263.75,134.20V141.00M260.95,137.60H266.55M266.25,134.20V141.00M263.45,137.60H269.05M270.00,134.20V141.00M267.20,137.60H272.80M277.50,134.20V141.00M274.70,137.60H280.30M285.00,134.20V141.00M282.20,137.60H287.80M290.00,134.20V141.00M287.20,137.60H292.80M305.00,134.20V141.00M302.20,137.60H307.80M311.00,134.20V141.00M308.20,137.60H313.80M323.00,134.20V141.00M320.20,137.60H325.80M356.00,134.20V141.00M353.20,137.60H358.80" fill="none" stroke="#2fb3d6" stroke-width="1.3"/>

<path d="M69.60,523.00 L73.30,523.00 L73.43,523.00 L73.43,524.83 L73.56,524.83 L73.56,526.66 L73.69,526.66 L73.69,528.49 L73.81,528.49 L73.81,530.31 L73.94,530.31 L73.94,532.14 L74.07,532.14 L74.07,533.97 L74.20,533.97 L74.20,535.80 L74.38,535.80 L74.38,537.66 L74.56,537.66 L74.56,539.51 L74.73,539.51 L74.73,541.37 L74.91,541.37 L74.91,543.22 L75.09,543.22 L75.09,545.08 L75.27,545.08 L75.27,546.93 L75.44,546.93 L75.44,548.79 L75.62,548.79 L75.62,550.64 L75.80,550.64 L75.80,552.50 L75.94,552.50 L75.94,554.36 L76.09,554.36 L76.09,556.21 L76.23,556.21 L76.23,558.07 L76.38,558.07 L76.38,559.92 L76.52,559.92 L76.52,561.78 L76.67,561.78 L76.67,563.63 L76.81,563.63 L76.81,565.49 L76.96,565.49 L76.96,567.34 L77.10,567.34 L77.10,569.20 L77.34,569.20 L77.34,570.99 L77.57,570.99 L77.57,572.77 L77.81,572.77 L77.81,574.56 L78.04,574.56 L78.04,576.34 L78.28,576.34 L78.28,578.13 L78.51,578.13 L78.51,579.91 L78.75,579.91 L78.75,581.70 L78.99,581.70 L78.99,583.49 L79.22,583.49 L79.22,585.27 L79.46,585.27 L79.46,587.06 L79.69,587.06 L79.69,588.84 L79.93,588.84 L79.93,590.63 L80.16,590.63 L80.16,592.41 L80.40,592.41 L80.40,594.20 L80.49,594.20 L80.49,596.02 L80.58,596.02 L80.58,597.83 L80.68,597.83 L80.68,599.65 L80.77,599.65 L80.77,601.47 L80.86,601.47 L80.86,603.28 L80.95,603.28 L80.95,605.10 L81.04,605.10 L81.04,606.92 L81.13,606.92 L81.13,608.73 L81.22,608.73 L81.22,610.55 L81.32,610.55 L81.32,612.37 L81.41,612.37 L81.41,614.18 L81.50,614.18 L81.50,616.00 L81.60,616.00 L81.60,617.76 L81.70,617.76 L81.70,619.53 L81.80,619.53 L81.80,621.29 L81.90,621.29 L81.90,623.06 L82.00,623.06 L82.00,624.82 L82.10,624.82 L82.10,626.59 L82.20,626.59 L82.20,628.35 L82.30,628.35 L82.30,630.12 L82.40,630.12 L82.40,631.88 L82.50,631.88 L82.50,633.65 L82.60,633.65 L82.60,635.41 L82.70,635.41 L82.70,637.18 L82.80,637.18 L82.80,638.94 L82.90,638.94 L82.90,640.71 L83.00,640.71 L83.00,642.47 L83.10,642.47 L83.10,644.24 L83.20,644.24 L83.20,646.00 L83.31,646.00 L83.31,647.77 L83.42,647.77 L83.42,649.54 L83.52,649.54 L83.52,651.31 L83.63,651.31 L83.63,653.08 L83.74,653.08 L83.74,654.85 L83.85,654.85 L83.85,656.62 L83.95,656.62 L83.95,658.38 L84.06,658.38 L84.06,660.15 L84.17,660.15 L84.17,661.92 L84.28,661.92 L84.28,663.69 L84.38,663.69 L84.38,665.46 L84.49,665.46 L84.49,667.23 L84.60,667.23 L84.60,669.00 L84.68,669.00 L84.68,670.82 L84.76,670.82 L84.76,672.65 L84.85,672.65 L84.85,674.47 L84.93,674.47 L84.93,676.29 L85.01,676.29 L85.01,678.12 L85.09,678.12 L85.09,679.94 L85.18,679.94 L85.18,681.76 L85.26,681.76 L85.26,683.59 L85.34,683.59 L85.34,685.41 L85.42,685.41 L85.42,687.24 L85.51,687.24 L85.51,689.06 L85.59,689.06 L85.59,690.88 L85.67,690.88 L85.67,692.71 L85.75,692.71 L85.75,694.53 L85.84,694.53 L85.84,696.35 L85.92,696.35 L85.92,698.18 L86.00,698.18 L86.00,700.00 L86.25,700.00 L86.25,701.67 L86.50,701.67 L86.50,703.33 L86.75,703.33 L86.75,705.00 L87.00,705.00 L87.00,706.67 L87.25,706.67 L87.25,708.33 L87.50,708.33 L87.50,710.00 L87.71,710.00 L87.71,711.81 L87.92,711.81 L87.92,713.61 L88.12,713.61 L88.12,715.42 L88.33,715.42 L88.33,717.22 L88.54,717.22 L88.54,719.03 L88.75,719.03 L88.75,720.83 L88.96,720.83 L88.96,722.64 L89.17,722.64 L89.17,724.44 L89.38,724.44 L89.38,726.25 L89.58,726.25 L89.58,728.06 L89.79,728.06 L89.79,729.86 L90.00,729.86 L90.00,731.67 L90.21,731.67 L90.21,733.47 L90.42,733.47 L90.42,735.28 L90.62,735.28 L90.62,737.08 L90.83,737.08 L90.83,738.89 L91.04,738.89 L91.04,740.69 L91.25,740.69 L91.25,742.50 L91.51,742.50 L91.51,744.26 L91.77,744.26 L91.77,746.01 L92.03,746.01 L92.03,747.77 L92.29,747.77 L92.29,749.53 L92.55,749.53 L92.55,751.29 L92.81,751.29 L92.81,753.04 L93.08,753.04 L93.08,754.80 L93.34,754.80 L93.34,756.56 L93.60,756.56 L93.60,758.31 L93.86,758.31 L93.86,760.07 L94.12,760.07 L94.12,761.83 L94.38,761.83 L94.38,763.59 L94.64,763.59 L94.64,765.34 L94.90,765.34 L94.90,767.10 L95.24,767.10 L95.24,768.96 L95.58,768.96 L95.58,770.83 L95.91,770.83 L95.91,772.69 L96.25,772.69 L96.25,774.55 L96.59,774.55 L96.59,776.41 L96.92,776.41 L96.92,778.27 L97.26,778.27 L97.26,780.14 L97.60,780.14 L97.60,782.00 L97.94,782.00 L97.94,783.88 L98.27,783.88 L98.27,785.75 L98.61,785.75 L98.61,787.62 L98.95,787.62 L98.95,789.50 L99.29,789.50 L99.29,791.38 L99.62,791.38 L99.62,793.25 L99.96,793.25 L99.96,795.12 L100.30,795.12 L100.30,797.00 L101.10,797.00 L101.10,798.80 L101.90,798.80 L101.90,800.60 L102.70,800.60 L102.70,802.40 L103.50,802.40 L103.50,804.20 L104.30,804.20 L104.30,806.00 L105.10,806.00 L105.10,807.80 L106.80,807.80 L106.80,809.80 L108.50,809.80 L108.50,811.80 L108.75,811.80 L108.75,813.50 L109.00,813.50 L109.00,815.20 L109.25,815.20 L109.25,816.90 L109.50,816.90 L109.50,818.60 L109.75,818.60 L109.75,820.30 L110.00,820.30 L110.00,822.00 L110.20,822.00 L110.20,823.68 L110.40,823.68 L110.40,825.37 L110.60,825.37 L110.60,827.05 L110.80,827.05 L110.80,828.73 L111.00,828.73 L111.00,830.42 L111.20,830.42 L111.20,832.10 L111.66,832.10 L111.66,833.88 L112.12,833.88 L112.12,835.66 L112.58,835.66 L112.58,837.44 L113.04,837.44 L113.04,839.22 L113.50,839.22 L113.50,841.00 L114.07,841.00 L114.07,842.57 L114.63,842.57 L114.63,844.13 L115.20,844.13 L115.20,845.70 L117.03,845.70 L117.03,847.50 L118.87,847.50 L118.87,849.30 L120.70,849.30 L120.70,851.10 L122.50,851.10 L122.50,852.90 L124.30,852.90 L124.30,854.70 L126.10,854.70 L126.10,856.50 L127.43,856.50 L127.43,858.33 L128.77,858.33 L128.77,860.17 L130.10,860.17 L130.10,862.00 L132.15,862.00 L132.15,862.90 L134.20,862.90 L134.20,863.80 L146.90,863.80 L146.90,868.50 L148.85,868.50 L148.85,870.00 L150.80,870.00 L150.80,871.50 L162.30,871.50 L162.30,875.40 L177.70,875.40 L177.70,879.30 L263.75,879.30 L263.75,886.70 L347.70,886.70" fill="none" stroke="#4a4a4a" stroke-width="1.35" stroke-linejoin="miter"/>
<path d="M81.30,612.60V619.40M78.50,616.00H84.10M97.80,779.60V786.40M95.00,783.00H100.60M130.30,858.60V865.40M127.50,862.00H133.10M156.25,868.10V874.90M153.45,871.50H159.05M183.75,875.90V882.70M180.95,879.30H186.55M233.75,875.90V882.70M230.95,879.30H236.55M349.00,883.30V890.10M346.20,886.70H351.80" fill="none" stroke="#eef1ae" stroke-width="1.5"/>

<path d="M72.00,523.00 L74.75,523.00 L74.75,526.50 L77.50,526.50 L77.50,530.00 L78.00,530.00 L78.00,532.80 L78.50,532.80 L78.50,535.60 L79.00,535.60 L79.00,538.40 L79.50,538.40 L79.50,541.20 L80.00,541.20 L80.00,544.00 L80.18,544.00 L80.18,547.00 L80.36,547.00 L80.36,550.00 L80.54,550.00 L80.54,553.00 L80.71,553.00 L80.71,556.00 L80.89,556.00 L80.89,559.00 L81.07,559.00 L81.07,562.00 L81.25,562.00 L81.25,565.00 L81.46,565.00 L81.46,567.78 L81.67,567.78 L81.67,570.57 L81.88,570.57 L81.88,573.35 L82.08,573.35 L82.08,576.13 L82.29,576.13 L82.29,578.92 L82.50,578.92 L82.50,581.70 L82.92,581.70 L82.92,584.78 L83.35,584.78 L83.35,587.85 L83.78,587.85 L83.78,590.92 L84.20,590.92 L84.20,594.00 L84.31,594.00 L84.31,597.00 L84.43,597.00 L84.43,600.00 L84.54,600.00 L84.54,603.00 L84.66,603.00 L84.66,606.00 L84.77,606.00 L84.77,609.00 L84.89,609.00 L84.89,612.00 L85.00,612.00 L85.00,615.00 L85.21,615.00 L85.21,617.80 L85.43,617.80 L85.43,620.60 L85.64,620.60 L85.64,623.40 L85.86,623.40 L85.86,626.20 L86.07,626.20 L86.07,629.00 L86.29,629.00 L86.29,631.80 L86.50,631.80 L86.50,634.60 L86.94,634.60 L86.94,637.49 L87.38,637.49 L87.38,640.38 L87.81,640.38 L87.81,643.26 L88.25,643.26 L88.25,646.15 L88.69,646.15 L88.69,649.04 L89.12,649.04 L89.12,651.93 L89.56,651.93 L89.56,654.81 L90.00,654.81 L90.00,657.70 L90.44,657.70 L90.44,660.58 L90.88,660.58 L90.88,663.45 L91.31,663.45 L91.31,666.33 L91.75,666.33 L91.75,669.20 L92.19,669.20 L92.19,672.08 L92.62,672.08 L92.62,674.95 L93.06,674.95 L93.06,677.83 L93.50,677.83 L93.50,680.70 L93.97,680.70 L93.97,683.58 L94.43,683.58 L94.43,686.47 L94.90,686.47 L94.90,689.35 L95.37,689.35 L95.37,692.23 L95.83,692.23 L95.83,695.12 L96.30,695.12 L96.30,698.00 L97.12,698.00 L97.12,701.17 L97.93,701.17 L97.93,704.33 L98.75,704.33 L98.75,707.50 L99.58,707.50 L99.58,710.83 L100.42,710.83 L100.42,714.17 L101.25,714.17 L101.25,717.50 L101.88,717.50 L101.88,720.62 L102.50,720.62 L102.50,723.75 L103.12,723.75 L103.12,726.88 L103.75,726.88 L103.75,730.00 L104.63,730.00 L104.63,733.33 L105.52,733.33 L105.52,736.67 L106.40,736.67 L106.40,740.00 L107.10,740.00 L107.10,743.00 L107.80,743.00 L107.80,746.00 L108.50,746.00 L108.50,749.00 L109.40,749.00 L109.40,751.87 L110.30,751.87 L110.30,754.73 L111.20,754.73 L111.20,757.60 L111.60,757.60 L111.60,760.30 L112.00,760.30 L112.00,763.00 L112.60,763.00 L112.60,766.75 L113.20,766.75 L113.20,770.50 L115.90,770.50 L115.90,773.90 L116.27,773.90 L116.27,776.60 L116.63,776.60 L116.63,779.30 L117.00,779.30 L117.00,782.00 L117.53,782.00 L117.53,784.70 L118.07,784.70 L118.07,787.40 L118.60,787.40 L118.60,790.10 L123.40,790.10 L123.40,793.50 L133.50,793.50 L134.20,793.50 L134.20,797.60 L145.00,797.60 L145.00,799.00 L145.83,799.00 L145.83,802.25 L146.67,802.25 L146.67,805.50 L147.50,805.50 L147.50,808.75 L165.00,808.75 L165.00,812.50 L176.00,812.50 L176.75,812.50 L176.75,815.62 L177.50,815.62 L177.50,818.75 L187.50,818.75 L188.75,818.75 L188.75,822.50 L189.38,822.50 L189.38,825.62 L190.00,825.62 L190.00,828.75 L195.00,828.75 L195.00,839.50 L255.00,839.50" fill="none" stroke="#7a6585" stroke-width="1.35" stroke-linejoin="miter"/>
<path d="M96.30,694.60V701.40M93.50,698.00H99.10M152.50,805.35V812.15M149.70,808.75H155.30M156.25,805.35V812.15M153.45,808.75H159.05M162.50,805.35V812.15M159.70,808.75H165.30M170.00,809.10V815.90M167.20,812.50H172.80M171.25,809.10V815.90M168.45,812.50H174.05M175.00,809.10V815.90M172.20,812.50H177.80M178.75,815.35V822.15M175.95,818.75H181.55M185.00,815.35V822.15M182.20,818.75H187.80M186.25,815.35V822.15M183.45,818.75H189.05M200.00,836.10V842.90M197.20,839.50H202.80M205.00,836.10V842.90M202.20,839.50H207.80M223.75,836.10V842.90M220.95,839.50H226.55M254.50,836.10V842.90M251.70,839.50H257.30" fill="none" stroke="#6a3c78" stroke-width="1.3"/>

<path d="M72.00,523.00 L72.51,523.00 L72.51,527.66 L73.02,527.66 L73.02,532.32 L73.53,532.32 L73.53,536.98 L74.04,536.98 L74.04,541.64 L74.55,541.64 L74.55,546.30 L75.06,546.30 L75.06,550.96 L75.57,550.96 L75.57,555.62 L76.08,555.62 L76.08,560.28 L76.59,560.28 L76.59,564.94 L77.10,564.94 L77.10,569.60 L77.93,569.60 L77.93,574.43 L78.76,574.43 L78.76,579.26 L79.59,579.26 L79.59,584.09 L80.42,584.09 L80.42,588.92 L81.25,588.92 L81.25,593.75 L85.00,593.75 L85.00,595.00 L85.00,608.75 L93.40,608.75 L93.40,650.20 L95.50,650.20 L95.50,656.00 L98.00,656.00 L98.00,662.00 L100.00,662.00 L100.00,668.00 L101.50,668.00 L101.50,676.00 L102.70,676.00 L102.70,683.00 L109.60,683.00 L109.60,691.10 L119.40,691.10 L119.40,700.00 L123.00,700.00 L123.00,707.50 L126.25,707.50 L126.25,724.50 L143.75,724.50 L143.75,735.00 L166.25,735.00 L166.25,757.50 L175.00,757.50 L175.00,770.50 L257.50,770.50 L257.50,801.50 L292.60,801.50" fill="none" stroke="#844650" stroke-width="1.35" stroke-linejoin="miter"/>
<path d="M77.10,566.20V573.00M74.30,569.60H79.90M123.00,696.60V703.40M120.20,700.00H125.80M127.50,721.10V727.90M124.70,724.50H130.30M135.00,721.10V727.90M132.20,724.50H137.80M141.25,721.10V727.90M138.45,724.50H144.05M166.25,754.10V760.90M163.45,757.50H169.05M168.75,754.10V760.90M165.95,757.50H171.55M177.50,767.10V773.90M174.70,770.50H180.30M181.25,767.10V773.90M178.45,770.50H184.05M187.50,767.10V773.90M184.70,770.50H190.30M190.00,767.10V773.90M187.20,770.50H192.80M205.00,767.10V773.90M202.20,770.50H207.80M208.75,767.10V773.90M205.95,770.50H211.55M266.25,798.10V804.90M263.45,801.50H269.05M276.30,798.10V804.90M273.50,801.50H279.10M289.20,798.10V804.90M286.40,801.50H292.00" fill="none" stroke="#9b2330" stroke-width="1.3"/>

<path d="M69.60,523.00 L73.00,523.00 L73.00,525.00 L76.70,525.00 L76.70,527.50 L77.50,527.50 L77.50,537.50 L81.70,537.50 L81.70,544.20 L85.40,544.20 L85.40,545.80 L85.83,545.80 L85.83,550.27 L86.27,550.27 L86.27,554.73 L86.70,554.73 L86.70,559.20 L87.95,559.20 L87.95,562.95 L89.20,562.95 L89.20,566.70 L89.60,566.70 L89.60,571.70 L90.00,571.70 L90.00,576.70 L90.40,576.70 L90.40,581.70 L93.75,581.70 L93.75,582.50 L94.17,582.50 L94.17,586.40 L94.58,586.40 L94.58,590.30 L95.00,590.30 L95.00,594.20 L96.25,594.20 L96.25,599.60 L97.50,599.60 L97.50,605.00 L101.25,605.00 L101.25,611.25 L103.12,611.25 L103.12,615.62 L105.00,615.62 L105.00,620.00 L105.62,620.00 L105.62,623.50 L106.25,623.50 L106.25,627.00 L128.75,627.00 L128.75,633.75 L130.62,633.75 L130.62,637.50 L132.50,637.50 L132.50,641.25 L133.75,641.25 L133.75,645.62 L135.00,645.62 L135.00,650.00 L136.88,650.00 L136.88,653.75 L138.75,653.75 L138.75,657.50 L140.00,657.50 L140.00,661.25 L141.25,661.25 L141.25,665.00 L142.90,665.00 L142.90,670.00 L142.90,673.50 L148.70,673.50 L148.70,681.50 L152.70,681.50 L152.70,690.20 L155.00,690.20 L155.00,699.40 L159.00,699.40 L159.00,709.80 L174.40,709.80 L174.40,723.00 L280.50,723.00 L280.50,780.00 L308.50,780.00" fill="none" stroke="#55996a" stroke-width="1.35" stroke-linejoin="miter"/>
<path d="M132.50,637.85V644.65M129.70,641.25H135.30M135.00,646.60V653.40M132.20,650.00H137.80M139.00,654.10V660.90M136.20,657.50H141.80M146.00,670.10V676.90M143.20,673.50H148.80M153.50,686.80V693.60M150.70,690.20H156.30M157.50,696.00V702.80M154.70,699.40H160.30M160.20,706.40V713.20M157.40,709.80H163.00M164.20,706.40V713.20M161.40,709.80H167.00M170.00,706.40V713.20M167.20,709.80H172.80M178.00,719.60V726.40M175.20,723.00H180.80M186.25,719.60V726.40M183.45,723.00H189.05M196.25,719.60V726.40M193.45,723.00H199.05M199.50,719.60V726.40M196.70,723.00H202.30M226.25,719.60V726.40M223.45,723.00H229.05M233.75,719.60V726.40M230.95,723.00H236.55M242.50,719.60V726.40M239.70,723.00H245.30M247.50,719.60V726.40M244.70,723.00H250.30M280.00,719.60V726.40M277.20,723.00H282.80M287.60,776.60V783.40M284.80,780.00H290.40M305.60,776.60V783.40M302.80,780.00H308.40" fill="none" stroke="#2f9a4a" stroke-width="1.3"/>

<path d="M69.60,523.00 L73.00,523.00 L73.00,525.00 L76.70,525.00 L76.70,527.50 L77.50,527.50 L77.50,537.50 L80.80,537.50 L80.80,538.30 L81.70,538.30 L81.70,540.00 L87.50,540.00 L87.50,541.00 L89.20,541.00 L89.20,544.20 L90.57,544.20 L90.57,546.97 L91.93,546.97 L91.93,549.73 L93.30,549.73 L93.30,552.50 L95.80,552.50 L95.80,553.35 L98.30,553.35 L98.30,554.20 L99.15,554.20 L99.15,557.95 L100.00,557.95 L100.00,561.70 L101.88,561.70 L101.88,563.98 L103.75,563.98 L103.75,566.25 L104.38,566.25 L104.38,569.06 L105.00,569.06 L105.00,571.88 L105.62,571.88 L105.62,574.69 L106.25,574.69 L106.25,577.50 L107.50,577.50 L107.50,580.62 L108.75,580.62 L108.75,583.75 L110.00,583.75 L110.00,586.88 L111.25,586.88 L111.25,590.00 L113.12,590.00 L113.12,593.12 L115.00,593.12 L115.00,596.25 L118.12,596.25 L118.12,598.75 L121.25,598.75 L121.25,601.25 L123.75,601.25 L123.75,602.50 L126.25,602.50 L126.25,603.75 L147.50,603.75 L150.00,603.75 L150.00,607.50 L190.00,607.50 L190.00,615.75 L215.00,615.75 L215.00,625.00 L223.75,625.00 L223.75,635.50 L233.75,635.50 L233.75,648.75 L313.00,648.75" fill="none" stroke="#45a9c0" stroke-width="1.35" stroke-linejoin="miter"/>
<path d="M100.00,558.30V565.10M97.20,561.70H102.80M106.25,574.10V580.90M103.45,577.50H109.05M115.00,592.85V599.65M112.20,596.25H117.80M127.50,600.35V607.15M124.70,603.75H130.30M132.50,600.35V607.15M129.70,603.75H135.30M137.50,600.35V607.15M134.70,603.75H140.30M140.00,600.35V607.15M137.20,603.75H142.80M143.75,600.35V607.15M140.95,603.75H146.55M146.25,600.35V607.15M143.45,603.75H149.05M150.00,604.10V610.90M147.20,607.50H152.80M152.50,604.10V610.90M149.70,607.50H155.30M155.00,604.10V610.90M152.20,607.50H157.80M157.50,604.10V610.90M154.70,607.50H160.30M160.00,604.10V610.90M157.20,607.50H162.80M162.50,604.10V610.90M159.70,607.50H165.30M165.00,604.10V610.90M162.20,607.50H167.80M175.00,604.10V610.90M172.20,607.50H177.80M177.50,604.10V610.90M174.70,607.50H180.30M180.00,604.10V610.90M177.20,607.50H182.80M181.25,604.10V610.90M178.45,607.50H184.05M182.50,604.10V610.90M179.70,607.50H185.30M185.00,604.10V610.90M182.20,607.50H187.80M186.25,604.10V610.90M183.45,607.50H189.05M187.50,604.10V610.90M184.70,607.50H190.30M192.50,612.35V619.15M189.70,615.75H195.30M195.00,612.35V619.15M192.20,615.75H197.80M202.50,612.35V619.15M199.70,615.75H205.30M210.00,612.35V619.15M207.20,615.75H212.80M220.00,621.60V628.40M217.20,625.00H222.80M222.50,621.60V628.40M219.70,625.00H225.30M225.00,632.10V638.90M222.20,635.50H227.80M230.00,632.10V638.90M227.20,635.50H232.80M236.25,645.35V652.15M233.45,648.75H239.05M240.00,645.35V652.15M237.20,648.75H242.80M246.25,645.35V652.15M243.45,648.75H249.05M248.75,645.35V652.15M245.95,648.75H251.55M252.50,645.35V652.15M249.70,648.75H255.30M268.75,645.35V652.15M265.95,648.75H271.55M271.25,645.35V652.15M268.45,648.75H274.05M277.50,645.35V652.15M274.70,648.75H280.30M291.25,645.35V652.15M288.45,648.75H294.05M292.00,645.35V652.15M289.20,648.75H294.80M305.40,645.35V652.15M302.60,648.75H308.20M308.30,645.35V652.15M305.50,648.75H311.10M312.10,645.35V652.15M309.30,648.75H314.90" fill="none" stroke="#2fb3d6" stroke-width="1.3"/>

</svg>
</body></html>
